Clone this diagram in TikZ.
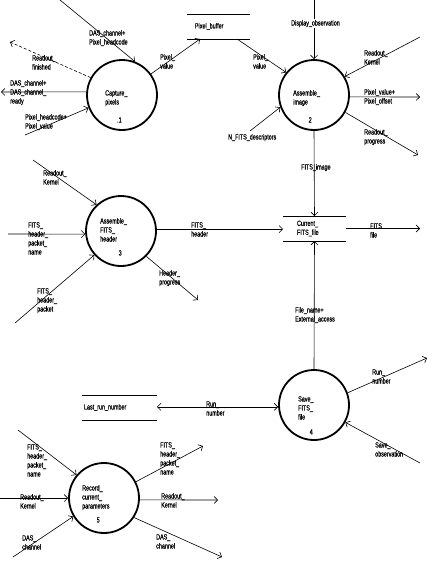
\documentclass[tikz,border=0pt]{standalone}
\usepackage{fontspec}
\newfontfamily\dfdfont[FakeStretch=0.72,FakeBold=0.6]{Liberation Sans}
\usetikzlibrary{arrows.meta,calc}
\begin{document}
\begin{tikzpicture}[x=1pt,y=-1pt,
  every node/.style={font=\dfdfont\fontsize{7.5}{9}\selectfont},
  proc/.style={circle,draw,line width=1.8pt,minimum size=70pt,inner sep=0pt},
  store/.style={rectangle,minimum height=25pt,inner ysep=0pt,outer sep=0pt,align=left,anchor=west},
  sline/.style={line width=0.9pt},
  flow/.style={line width=0.6pt,-{Straight Barb[length=3.5pt,width=7pt]}},
  lab/.style={anchor=base west,align=left,inner sep=0pt},
  ptext/.style={anchor=base west,align=left,inner sep=0pt},
  two/.style={yshift=-9pt},
  three/.style={yshift=-18pt},
  four/.style={yshift=-27pt},
]
\useasboundingbox (0,0) rectangle (428,562);

% processes
\node[proc] (c1) at (122,95) {};
\node[proc] (c2) at (314,95) {};
\node[proc] (c3) at (121,231) {};
\node[proc] (c4) at (314,405) {};
\node[proc] (c5) at (104,498) {};

\node[ptext,two] (t1) at (105,95.5) {Capture\_\\pixels};
\node[ptext] (n1) at (117,122.5) {.1};
\node[ptext,two] (t2) at (293,95.5) {Assemble\_\\image};
\node[ptext] (n2) at (308.5,122.5) {2};
\node[ptext,three] (t3) at (100,223.5) {Assemble\_\\FITS\_\\header};
\node[ptext] (n3) at (118.5,255.5) {3};
\node[ptext,three] (t4) at (298,401.5) {Save\_\\FITS\_\\file};
\node[ptext] (n4) at (309.5,434.5) {4};
\node[ptext,three] (t5) at (82,490.5) {Record\_\\current\_\\parameters};
\node[ptext] (n5) at (96.5,522.5) {5};

% stores
\node[store,text width=47pt,inner xsep=8pt] (pb) at (187,26.5) {Pixel\_buffer};
\draw[sline] (pb.north west) -- (pb.north east) (pb.south west) -- (pb.south east);
\node[store,text width=35pt,inner xsep=14pt] (cf) at (283,228.5) {Current\_\\FITS\_file};
\draw[sline] (cf.north west) -- (cf.north east) (cf.south west) -- (cf.south east);
\node[store,text width=71pt,inner xsep=2pt] (lr) at (82,407.5) {Last\_run\_number};
\draw[sline] (lr.north west) -- (lr.north east) (lr.south west) -- (lr.south east);

% flows of process 1
\coordinate (e1a) at (60,0);
\draw[flow] (e1a) -- (c1.69);
\coordinate (e1b) at (10,42);
\draw[flow,dash pattern=on 3pt off 2pt] (c1.151) -- (e1b);
\coordinate (e1c) at (1,92);
\draw[flow] (c1.175) -- (e1c);
\coordinate (e1d) at (25,135);
\draw[flow] (e1d) -- (c1.201);
\draw[flow] (c1.36) -- ([xshift=-18.5pt]pb.south);
\draw[flow] ([xshift=18.5pt]pb.south) -- (c2.141);

% flows of process 2
\coordinate (e2n) at (250,131);
\draw[flow] (e2n) -- (c2.200);
\coordinate (e2t) at (314,0);
\draw[flow] (e2t) -- (c2.north);
\coordinate (e2r) at (420,37);
\draw[flow] (e2r) -- (c2.31);
\coordinate (e2p) at (420,97);
\draw[flow] (c2.-3) -- (e2p);
\coordinate (e2q) at (418,155);
\draw[flow] (c2.-29) -- (e2q);
\draw[flow] (c2.south) -- (cf.north);

% flows of process 3
\coordinate (e3a) at (33,160);
\draw[flow] (e3a) -- (c3.133);
\coordinate (e3b) at (8,234);
\draw[flow] (e3b) -- (c3.185);
\coordinate (e3c) at (15,323);
\draw[flow] (e3c) -- (c3.222);
\draw[flow] (c3.3) -- (c3.3 -| cf.west);
\coordinate (e3d) at (198,300);
\draw[flow] (c3.-45) -- (e3d);

% current FITS file
\coordinate (ecf) at (420,228.5);
\draw[flow] (cf.east) -- (ecf);
\draw[flow] (c4.north) -- (cf.south);

% flows of process 4
\draw[line width=0.6pt,{Straight Barb[length=3.5pt,width=7pt]}-{Straight Barb[length=3.5pt,width=7pt]}] (lr.east |- c4.183) -- (c4.183);
\coordinate (e4a) at (427,358);
\draw[flow] (c4.20) -- (e4a);
\coordinate (e4b) at (420,463);
\draw[flow] (e4b) -- (c4.-29);

% flows of process 5
\coordinate (e5a) at (18,430);
\draw[flow] (e5a) -- (c5.140);
\coordinate (e5b) at (0,498);
\draw[flow] (e5b) -- (c5.west);
\coordinate (e5c) at (13,557);
\draw[flow] (e5c) -- (c5.211);
\coordinate (e5d) at (203,446);
\draw[flow] (c5.27) -- (e5d);
\coordinate (e5e) at (218,500);
\draw[flow] (c5.-3) -- (e5e);
\coordinate (e5f) at (222,557);
\draw[flow] (c5.-33) -- (e5f);

% labels
\node[lab,two] (l1a) at (89,35.5) {DAS\_channel+\\Pixel\_headcode};
\node[lab,two] (l1b) at (32,60.5) {Readout\_\\finished};
\node[lab,three] (l1c) at (10,85.5) {DAS\_channel+\\DAS\_channel\_\\ready};
\node[lab,two] (l1d) at (25,119.5) {Pixel\_headcode+\\Pixel\_value};
\node[lab,two] (l1e) at (160,59.5) {Pixel\_\\value};
\node[lab,two] (l2a) at (253,59.5) {Pixel\_\\value};
\node[lab] (l2b) at (228,139.5) {N\_FITS\_descriptors};
\node[lab,fill=white,inner ysep=1pt] (l2c) at (291,25.5) {Display\_observation};
\node[lab,two] (l2d) at (364,55.5) {Readout\_\\Kernel};
\node[lab,two] (l2e) at (364,94.5) {Pixel\_value+\\Pixel\_offset};
\node[lab,two] (l2f) at (364,134.5) {Readout\_\\progress};
\node[lab] (l2g) at (301,169.5) {FITS\_image};
\node[lab,two] (l3a) at (43,175.5) {Readout\_\\Kernel};
\node[lab,four] (l3b) at (28,227.5) {FITS\_\\header\_\\packet\_\\name};
\node[lab,three] (l3c) at (37,293.5) {FITS\_\\header\_\\packet};
\node[lab,two] (l3d) at (191,227.5) {FITS\_\\header};
\node[lab,two] (l3e) at (159,275.5) {Header\_\\progress};
\node[lab,two] (lcf) at (370,228.5) {FITS\\file};
\node[lab,two] (lcf2) at (295,312.5) {File\_name+\\External\_access};
\node[lab,two] (l4a) at (372,374.5) {Run\_\\number};
\node[lab,two] (l4b) at (375,447.5) {Save\_\\observation};
\node[lab,two] (l4c) at (206,406.5) {Run\_\\number};
\node[lab,four] (l5a) at (27,449.5) {FITS\_\\header\_\\packet\_\\name};
\node[lab,two] (l5b) at (20,499.5) {Readout\_\\Kernel};
\node[lab,two] (l5c) at (22,540.5) {DAS\_\\channel};
\node[lab,four] (l5d) at (160,447.5) {FITS\_\\header\_\\packet\_\\name};
\node[lab,two] (l5e) at (161,498.5) {Readout\_\\Kernel};
\node[lab,two] (l5f) at (156,539.5) {DAS\_\\channel};
\end{tikzpicture}
\end{document}
